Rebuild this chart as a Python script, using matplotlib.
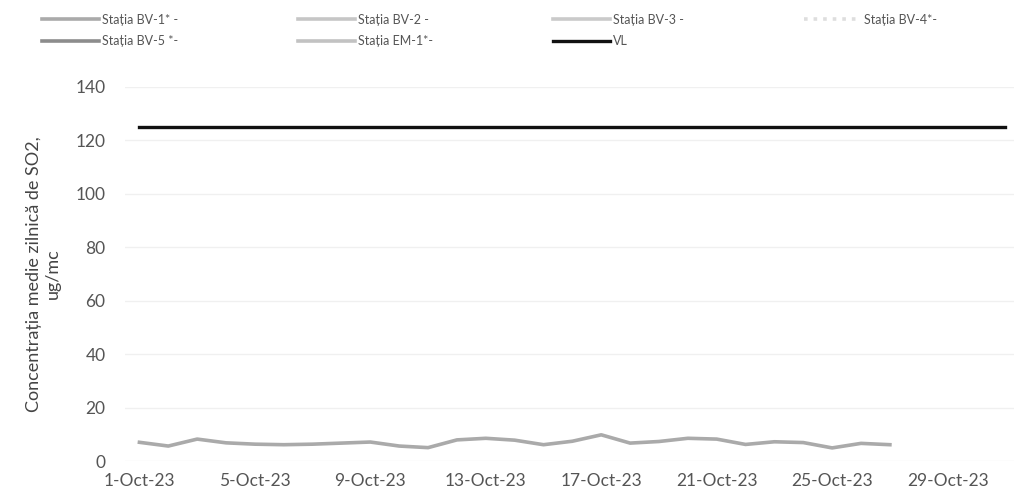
import numpy as np
import pandas as pd
import matplotlib
matplotlib.use('Agg')
import matplotlib.pyplot as plt
import matplotlib.dates as mdates

plt.rcParams['font.family'] = ['Lato', 'DejaVu Sans']

# daily SO2 concentration, ug/mc
days = pd.date_range('2023-10-01', '2023-10-27', freq='D')
bv1 = [7.0, 5.6, 8.2, 6.8, 6.3, 6.1, 6.3, 6.7, 7.1, 5.6, 5.0, 7.9, 8.5, 7.8,
       6.1, 7.4, 9.8, 6.7, 7.3, 8.5, 8.2, 6.2, 7.2, 6.9, 4.9, 6.6, 6.1]

vl_days = pd.date_range('2023-10-01', '2023-10-31', freq='D')
vl_value = 125

stations = ['Stația BV-1* -', 'Stația BV-2 -', 'Stația BV-3 -', 'Stația BV-4*-',
            'Stația BV-5 *-', 'Stația EM-1*-']
colors = ['#aaaaaa', '#c6c6c6', '#cacaca', '#dedede', '#8c8c8c', '#c2c2c2']

xticks = pd.date_range('2023-10-01', '2023-10-29', freq='4D')
yticks = [0, 20, 40, 60, 80, 100, 120, 140]

fig = plt.figure(figsize=(10.14, 4.97), dpi=100)
ax = fig.add_axes([125 / 1014, 1 - 461 / 497, 889 / 1014, (461 - 87) / 497])

handles = []
for i, (name, c) in enumerate(zip(stations, colors)):
    if i == 0:
        h, = ax.plot(days, bv1, color=c, lw=2.6, label=name)
    else:
        ls = ':' if name.startswith('Stația BV-4') else '-'
        h, = ax.plot([], [], color=c, lw=2.6, ls=ls, label=name)
    handles.append(h)
h, = ax.plot(vl_days, [vl_value] * len(vl_days), color='#111111', lw=2.4, label='VL')
handles.append(h)

ax.set_ylim(0, 140)
ax.set_yticks(yticks)
ax.set_xlim(mdates.date2num(pd.Timestamp('2023-10-01')) - 0.5,
            mdates.date2num(pd.Timestamp('2023-10-31')) + 0.3)
ax.set_xticks(xticks)
ax.xaxis.set_major_formatter(mdates.DateFormatter('%-d-%b-%y'))

ax.grid(axis='y', color='#f0f0f0', lw=1)
for s in ax.spines.values():
    s.set_visible(False)
ax.tick_params(axis='both', length=0, labelsize=12.5, colors='#555555')
ax.tick_params(axis='y', pad=14)
ax.tick_params(axis='x', pad=9)

ax.set_ylabel('Concentrația medie zilnică de SO2,\nug/mc', fontsize=13,
              color='#444444', linespacing=1.2)
ax.yaxis.set_label_coords(-0.072, 0.5)

# legend filled row by row (matplotlib fills columns first)
order = [0, 4, 1, 5, 2, 6, 3]
fig.legend(handles=[handles[k] for k in order], loc='upper left',
           bbox_to_anchor=(0.03, 0.995), ncol=4, frameon=False, fontsize=9,
           handlelength=4.6, handletextpad=0.2, columnspacing=9.6,
           labelspacing=0.75, labelcolor='#555555')

fig.savefig('out.png', dpi=100)
